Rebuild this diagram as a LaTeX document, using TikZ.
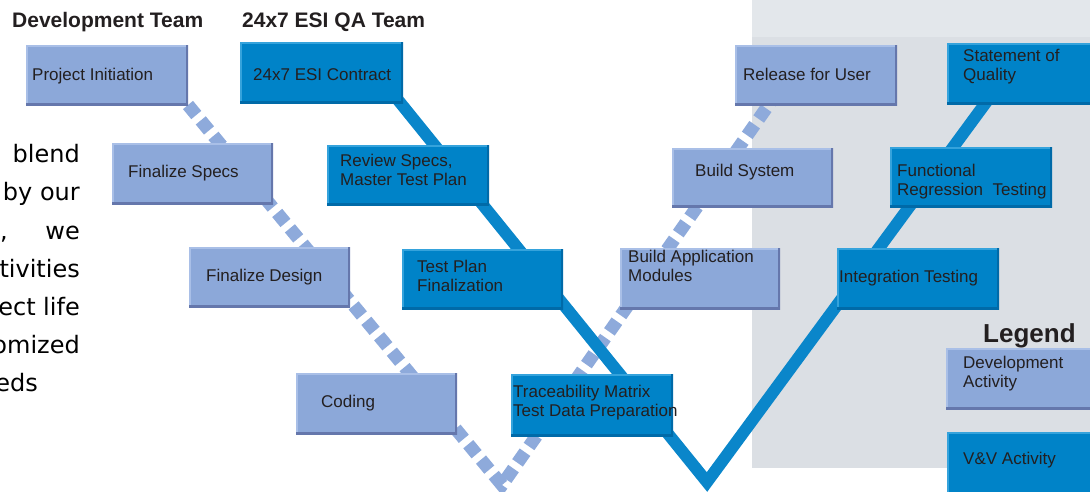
\documentclass[tikz,border=0pt]{standalone}
\usepackage{fontspec}
\setmainfont{Liberation Sans}
\newfontfamily\verdfont{DejaVu Sans}
\usetikzlibrary{calc}
\definecolor{devfill}{HTML}{8CA8D9}
\definecolor{devdark}{HTML}{6577AC}
\definecolor{devlight}{HTML}{A9BFE7}
\definecolor{vvfill}{HTML}{0083C8}
\definecolor{vvdark}{HTML}{006AA8}
\definecolor{vvlight}{HTML}{35A3DC}
\definecolor{txt}{HTML}{231F20}
\definecolor{panel}{HTML}{DBDFE4}
\definecolor{panellight}{HTML}{E3E7EB}
\definecolor{vline}{HTML}{0A86CA}
\definecolor{dline}{HTML}{8EAADB}
\tikzset{
  boxbase/.style={rectangle, anchor=north west, inner sep=0pt, outer sep=0pt},
  devbox/.style={boxbase, fill=devfill, path picture={
      \draw[devlight, line width=3pt] (path picture bounding box.south west) -- (path picture bounding box.north west) -- (path picture bounding box.north east);
      \draw[devdark, line width=4pt] (path picture bounding box.north east) -- (path picture bounding box.south east) -- (path picture bounding box.south west);}},
  vvbox/.style={boxbase, fill=vvfill, path picture={
      \draw[vvlight, line width=3pt] (path picture bounding box.south west) -- (path picture bounding box.north west) -- (path picture bounding box.north east);
      \draw[vvdark, line width=4pt] (path picture bounding box.north east) -- (path picture bounding box.south east) -- (path picture bounding box.south west);}},
  lbl/.style={anchor=base west, inner sep=0pt, text=txt, align=left, font=\fontsize{17}{19}\selectfont},
  title/.style={anchor=base west, inner sep=0pt, text=txt, font=\bfseries\fontsize{21}{24}\selectfont},
  para/.style={anchor=base east, inner sep=0pt, text=black, font=\verdfont\fontsize{24}{28}\selectfont},
  devline/.style={dline, line width=13pt, dash pattern=on 13pt off 7pt},
  vvline/.style={vline, line width=12pt, line join=miter},
}
\begin{document}
\begin{tikzpicture}[x=1pt, y=-1pt]
\useasboundingbox (0,0) rectangle (1090,491);
\clip (0,0) rectangle (1090,491);
% background panel
\fill[panellight] (752,0) rectangle (1090,37);
\fill[panel] (752,37) rectangle (1090,468);

% connector end points
\coordinate (dv) at (502,485);
\coordinate (dend) at (772,100);
\coordinate (qstart) at (398,100);
\coordinate (qv) at (707,482);
\coordinate (qend) at (990,97);

\draw[devline] (188,105) coordinate (dstart) -- (dv) -- (dend);
\draw[vvline] (qstart) -- (qv) -- (qend);

% development boxes
\node[devbox, minimum width=162, minimum height=60] (pi) at (26,45) {};
\node[devbox, minimum width=161, minimum height=61] (specs) at (112,143) {};
\node[devbox, minimum width=161, minimum height=60] (design) at (189,247) {};
\node[devbox, minimum width=161, minimum height=61] (coding) at (296,373) {};
\node[devbox, minimum width=160, minimum height=61] (bam) at (620,248) {};
\node[devbox, minimum width=161, minimum height=59] (bs) at (672,148) {};
\node[devbox, minimum width=162, minimum height=60] (rel) at (735,45) {};
\node[devbox, minimum width=150, minimum height=61] (ldev) at (946,348) {};

% V&V boxes
\node[vvbox, minimum width=163, minimum height=61] (contract) at (240,42) {};
\node[vvbox, minimum width=162, minimum height=60] (review) at (327,145) {};
\node[vvbox, minimum width=161, minimum height=60] (tpf) at (402,249) {};
\node[vvbox, minimum width=162, minimum height=62] (trace) at (511,374) {};
\node[vvbox, minimum width=162, minimum height=61] (it) at (837,248) {};
\node[vvbox, minimum width=162, minimum height=60] (frt) at (890,147) {};
\node[vvbox, minimum width=150, minimum height=61] (soq) at (947,43) {};
\node[vvbox, minimum width=150, minimum height=70] (lvv) at (947,432) {};

% labels (multi-line labels are placed by the baseline of their last line)
\node[lbl] (tpi) at (32,80) {Project Initiation};
\node[lbl] (tspecs) at (128,177) {Finalize Specs};
\node[lbl] (tdesign) at (206,281) {Finalize Design};
\node[lbl] (tcoding) at (321,407) {Coding};
\node[lbl] (tbam) at (628,281) {Build Application\\Modules};
\node[lbl] (tbs) at (695,176) {Build System};
\node[lbl] (trel) at (743,80) {Release for User};
\node[lbl] (tldev) at (963,387) {Development\\Activity};

\node[lbl] (tcontract) at (253,80) {24x7 ESI Contract};
\node[lbl] (treview) at (340,185) {Review Specs,\\Master Test Plan};
\node[lbl] (ttpf) at (417,291) {Test Plan\\Finalization};
\node[lbl] (ttrace) at (513,416) {Traceability Matrix\\Test Data Preparation};
\node[lbl] (tit) at (839,282) {Integration Testing};
\node[lbl] (tfrt) at (897,195) {Functional\\Regression\ \ Testing};
\node[lbl] (tsoq) at (963,80) {Statement of\\Quality};
\node[lbl] (tlvv) at (963,464) {V\&V Activity};

% titles
\node[title] (devteam) at (12,27) {Development Team};
\node[title] (qateam) at (242,27) {24x7 ESI QA Team};
\node[title, font=\bfseries\fontsize{26}{30}\selectfont] (legend) at (983,342) {Legend};

% cut-off paragraph on the left
\node[para] (p1) at (80,162) {blend};
\node[para] (p2) at (80,200) {by our};
\node[para, anchor=base west] (p3a) at (0,239) {,};
\node[para] (p3b) at (80,239) {we};
\node[para] (p4) at (80,277) {tivities};
\node[para] (p5a) at (36,315) {ect};
\node[para] (p5b) at (80,315) {life};
\node[para] (p6) at (80,353) {omized};
\node[para] (p7) at (38,391) {eds};
\end{tikzpicture}
\end{document}
